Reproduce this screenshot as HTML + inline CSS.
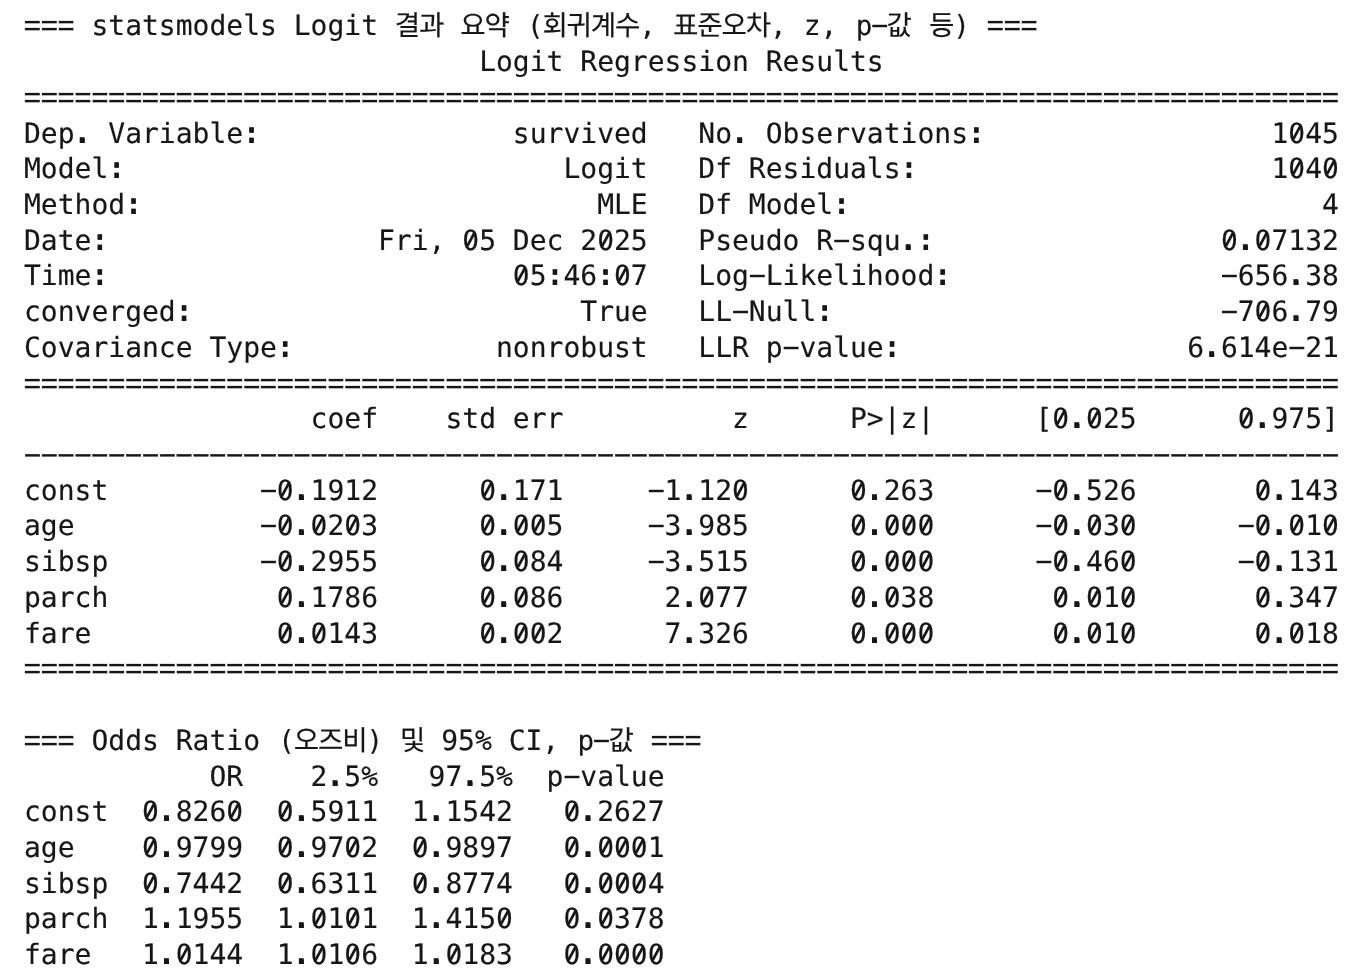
<!DOCTYPE html>
<html lang="ko">
<head>
<meta charset="utf-8">
<title>statsmodels Logit 결과 요약</title>
<style>
html,body{margin:0;padding:0;background:#fefefe;}
body{width:1352px;height:978px;overflow:hidden;position:relative;}
#out{position:absolute;left:24px;top:0;width:1328px;height:978px;
  font-family:"DejaVu Sans Mono","Liberation Mono","Noto Sans CJK KR",monospace;
  font-size:28px;line-height:36px;color:#161616;
  font-variant-ligatures:none;font-kerning:none;-webkit-text-stroke:0.15px #161616;
  text-rendering:geometricPrecision;}
.l{position:absolute;left:0;white-space:pre;height:36px;}
/* Korean tokens: fallback glyphs sized and spaced like the reference */
.k{font-family:"DejaVu Sans Mono","Noto Sans CJK KR","NanumGothic",monospace;font-size:27.6px;font-weight:400;letter-spacing:-1.15px;line-height:0;}
.kl{margin-left:1.39px;}
.kr{margin-right:1.39px;}
/* rule lines: reshape "=" and "-" glyph runs to the reference proportions */
.e{display:inline-block;-webkit-text-stroke:0.4px #fefefe;letter-spacing:-0.8788px;transform:translateX(-0.464px) scale(1.055,1.275);transform-origin:0 19.7px;}
.e3{margin-right:2.636px;}
.hr{display:inline-block;-webkit-text-stroke:0.25px #161616;letter-spacing:-8.5122px;transform:translate(-8.597px,-1px) scale(2.02,1.0);transform-origin:0 27px;}
/* decorations over the real text: slashed zero, heavier dots, longer hyphen */
#deco{position:absolute;left:0;top:0;}
</style>
</head>
<body>
<div id="out">
<div class="l" style="top:8px"><span class="e e3">===</span> statsmodels Logit <span class="k">결과</span> <span class="k">요약</span> <span class="k kl kr">(회귀계수,</span> <span class="k kr">표준오차,</span> z, <span class="k kl kr">p-값</span> <span class="k kr">등)</span> <span class="e e3">===</span></div>
<div class="l" style="top:44px">                           Logit Regression Results</div>
<div class="l" style="top:80px"><span class="e">==============================================================================</span></div>
<div class="l" style="top:116px">Dep. Variable:               survived   No. Observations:                 1045</div>
<div class="l" style="top:151px">Model:                          Logit   Df Residuals:                     1040</div>
<div class="l" style="top:187px">Method:                           MLE   Df Model:                            4</div>
<div class="l" style="top:223px">Date:                Fri, 05 Dec 2025   Pseudo R-squ.:                 0.07132</div>
<div class="l" style="top:258px">Time:                        05:46:07   Log-Likelihood:                -656.38</div>
<div class="l" style="top:294px">converged:                       True   LL-Null:                       -706.79</div>
<div class="l" style="top:330px">Covariance Type:            nonrobust   LLR p-value:                 6.614e-21</div>
<div class="l" style="top:366px"><span class="e">==============================================================================</span></div>
<div class="l" style="top:401px">                 coef    std err          z      P&gt;|z|      [0.025      0.975]</div>
<div class="l" style="top:437px"><span class="hr">------------------------------------------------------------------------------</span></div>
<div class="l" style="top:473px">const         -0.1912      0.171     -1.120      0.263      -0.526       0.143</div>
<div class="l" style="top:508px">age           -0.0203      0.005     -3.985      0.000      -0.030      -0.010</div>
<div class="l" style="top:544px">sibsp         -0.2955      0.084     -3.515      0.000      -0.460      -0.131</div>
<div class="l" style="top:580px">parch          0.1786      0.086      2.077      0.038       0.010       0.347</div>
<div class="l" style="top:616px">fare           0.0143      0.002      7.326      0.000       0.010       0.018</div>
<div class="l" style="top:651px"><span class="e">==============================================================================</span></div>
<div class="l" style="top:723px"><span class="e e3">===</span> Odds Ratio <span class="k kl kr">(오즈비)</span> <span class="k">및</span> 95% CI, <span class="k kl kr">p-값</span> <span class="e e3">===</span></div>
<div class="l" style="top:759px">           OR    2.5%   97.5%  p-value</div>
<div class="l" style="top:794px">const  0.8260  0.5911  1.1542   0.2627</div>
<div class="l" style="top:830px">age    0.9799  0.9702  0.9897   0.0001</div>
<div class="l" style="top:866px">sibsp  0.7442  0.6311  0.8774   0.0004</div>
<div class="l" style="top:901px">parch  1.1955  1.0101  1.4150   0.0378</div>
<div class="l" style="top:937px">fare   1.0144  1.0106  1.0183   0.0000</div>
<svg id="deco" width="1328" height="978" viewBox="0 0 1328 978" aria-hidden="true">
<g fill="#fefefe">
<rect x="851.13" y="26.92" width="9" height="2.48"/>
<circle cx="1272.74" cy="132.74" r="2.4"/>
<circle cx="1272.74" cy="167.74" r="2.4"/>
<circle cx="1306.45" cy="167.74" r="2.4"/>
<circle cx="446.72" cy="239.74" r="2.4"/>
<circle cx="581.58" cy="239.74" r="2.4"/>
<rect x="813.08" y="241.92" width="9" height="2.48"/>
<circle cx="1205.31" cy="239.74" r="2.4"/>
<circle cx="1239.02" cy="239.74" r="2.4"/>
<circle cx="497.29" cy="274.74" r="2.4"/>
<circle cx="598.44" cy="274.74" r="2.4"/>
<rect x="728.8" y="276.92" width="9" height="2.48"/>
<rect x="1200.8" y="276.92" width="9" height="2.48"/>
<rect x="711.94" y="312.92" width="9" height="2.48"/>
<rect x="1200.8" y="312.92" width="9" height="2.48"/>
<circle cx="1239.02" cy="310.74" r="2.4"/>
<rect x="762.51" y="348.92" width="9" height="2.48"/>
<rect x="1268.23" y="348.92" width="9" height="2.48"/>
<circle cx="1036.73" cy="417.74" r="2.4"/>
<circle cx="1070.45" cy="417.74" r="2.4"/>
<circle cx="1222.16" cy="417.74" r="2.4"/>
<rect x="239.93" y="491.92" width="9" height="2.48"/>
<circle cx="261.29" cy="489.74" r="2.4"/>
<circle cx="463.58" cy="489.74" r="2.4"/>
<rect x="627.65" y="491.92" width="9" height="2.48"/>
<circle cx="716.44" cy="489.74" r="2.4"/>
<circle cx="834.44" cy="489.74" r="2.4"/>
<rect x="1015.37" y="491.92" width="9" height="2.48"/>
<circle cx="1036.73" cy="489.74" r="2.4"/>
<circle cx="1239.02" cy="489.74" r="2.4"/>
<rect x="239.93" y="526.92" width="9" height="2.48"/>
<circle cx="261.29" cy="524.74" r="2.4"/>
<circle cx="295.01" cy="524.74" r="2.4"/>
<circle cx="328.72" cy="524.74" r="2.4"/>
<circle cx="463.58" cy="524.74" r="2.4"/>
<circle cx="497.29" cy="524.74" r="2.4"/>
<circle cx="514.15" cy="524.74" r="2.4"/>
<rect x="627.65" y="526.92" width="9" height="2.48"/>
<circle cx="834.44" cy="524.74" r="2.4"/>
<circle cx="868.16" cy="524.74" r="2.4"/>
<circle cx="885.01" cy="524.74" r="2.4"/>
<circle cx="901.87" cy="524.74" r="2.4"/>
<rect x="1015.37" y="526.92" width="9" height="2.48"/>
<circle cx="1036.73" cy="524.74" r="2.4"/>
<circle cx="1070.45" cy="524.74" r="2.4"/>
<circle cx="1104.16" cy="524.74" r="2.4"/>
<rect x="1217.66" y="526.92" width="9" height="2.48"/>
<circle cx="1239.02" cy="524.74" r="2.4"/>
<circle cx="1272.74" cy="524.74" r="2.4"/>
<circle cx="1306.45" cy="524.74" r="2.4"/>
<rect x="239.93" y="562.92" width="9" height="2.48"/>
<circle cx="261.29" cy="560.74" r="2.4"/>
<circle cx="463.58" cy="560.74" r="2.4"/>
<circle cx="497.29" cy="560.74" r="2.4"/>
<rect x="627.65" y="562.92" width="9" height="2.48"/>
<circle cx="834.44" cy="560.74" r="2.4"/>
<circle cx="868.16" cy="560.74" r="2.4"/>
<circle cx="885.01" cy="560.74" r="2.4"/>
<circle cx="901.87" cy="560.74" r="2.4"/>
<rect x="1015.37" y="562.92" width="9" height="2.48"/>
<circle cx="1036.73" cy="560.74" r="2.4"/>
<circle cx="1104.16" cy="560.74" r="2.4"/>
<rect x="1217.66" y="562.92" width="9" height="2.48"/>
<circle cx="1239.02" cy="560.74" r="2.4"/>
<circle cx="261.29" cy="596.74" r="2.4"/>
<circle cx="463.58" cy="596.74" r="2.4"/>
<circle cx="497.29" cy="596.74" r="2.4"/>
<circle cx="682.73" cy="596.74" r="2.4"/>
<circle cx="834.44" cy="596.74" r="2.4"/>
<circle cx="868.16" cy="596.74" r="2.4"/>
<circle cx="1036.73" cy="596.74" r="2.4"/>
<circle cx="1070.45" cy="596.74" r="2.4"/>
<circle cx="1104.16" cy="596.74" r="2.4"/>
<circle cx="1239.02" cy="596.74" r="2.4"/>
<circle cx="261.29" cy="632.74" r="2.4"/>
<circle cx="295.01" cy="632.74" r="2.4"/>
<circle cx="463.58" cy="632.74" r="2.4"/>
<circle cx="497.29" cy="632.74" r="2.4"/>
<circle cx="514.15" cy="632.74" r="2.4"/>
<circle cx="834.44" cy="632.74" r="2.4"/>
<circle cx="868.16" cy="632.74" r="2.4"/>
<circle cx="885.01" cy="632.74" r="2.4"/>
<circle cx="901.87" cy="632.74" r="2.4"/>
<circle cx="1036.73" cy="632.74" r="2.4"/>
<circle cx="1070.45" cy="632.74" r="2.4"/>
<circle cx="1104.16" cy="632.74" r="2.4"/>
<circle cx="1239.02" cy="632.74" r="2.4"/>
<circle cx="1272.74" cy="632.74" r="2.4"/>
<rect x="572.9" y="741.92" width="9" height="2.48"/>
<rect x="543.37" y="777.92" width="9" height="2.48"/>
<circle cx="126.43" cy="810.74" r="2.4"/>
<circle cx="210.72" cy="810.74" r="2.4"/>
<circle cx="261.29" cy="810.74" r="2.4"/>
<circle cx="547.87" cy="810.74" r="2.4"/>
<circle cx="126.43" cy="846.74" r="2.4"/>
<circle cx="261.29" cy="846.74" r="2.4"/>
<circle cx="328.72" cy="846.74" r="2.4"/>
<circle cx="396.15" cy="846.74" r="2.4"/>
<circle cx="547.87" cy="846.74" r="2.4"/>
<circle cx="581.58" cy="846.74" r="2.4"/>
<circle cx="598.44" cy="846.74" r="2.4"/>
<circle cx="615.3" cy="846.74" r="2.4"/>
<circle cx="126.43" cy="882.74" r="2.4"/>
<circle cx="261.29" cy="882.74" r="2.4"/>
<circle cx="396.15" cy="882.74" r="2.4"/>
<circle cx="547.87" cy="882.74" r="2.4"/>
<circle cx="581.58" cy="882.74" r="2.4"/>
<circle cx="598.44" cy="882.74" r="2.4"/>
<circle cx="615.3" cy="882.74" r="2.4"/>
<circle cx="295.01" cy="917.74" r="2.4"/>
<circle cx="328.72" cy="917.74" r="2.4"/>
<circle cx="480.44" cy="917.74" r="2.4"/>
<circle cx="547.87" cy="917.74" r="2.4"/>
<circle cx="581.58" cy="917.74" r="2.4"/>
<circle cx="160.15" cy="953.74" r="2.4"/>
<circle cx="295.01" cy="953.74" r="2.4"/>
<circle cx="328.72" cy="953.74" r="2.4"/>
<circle cx="429.86" cy="953.74" r="2.4"/>
<circle cx="547.87" cy="953.74" r="2.4"/>
<circle cx="581.58" cy="953.74" r="2.4"/>
<circle cx="598.44" cy="953.74" r="2.4"/>
<circle cx="615.3" cy="953.74" r="2.4"/>
<circle cx="632.15" cy="953.74" r="2.4"/>
</g>
<g fill="#161616">
<rect x="848.3" y="24.78" width="14.85" height="2.44"/>
<rect x="55.72" y="137.2" width="4.85" height="5.8"/>
<rect x="225.2" y="127.2" width="4.6" height="5.5"/>
<rect x="225.2" y="137.6" width="4.6" height="5.4"/>
<rect x="713.16" y="137.2" width="4.85" height="5.8"/>
<rect x="950.06" y="127.2" width="4.6" height="5.5"/>
<rect x="950.06" y="137.6" width="4.6" height="5.4"/>
<rect x="90.34" y="162.2" width="4.6" height="5.5"/>
<rect x="90.34" y="172.6" width="4.6" height="5.4"/>
<rect x="882.63" y="162.2" width="4.6" height="5.5"/>
<rect x="882.63" y="172.6" width="4.6" height="5.4"/>
<rect x="107.19" y="198.2" width="4.6" height="5.5"/>
<rect x="107.19" y="208.6" width="4.6" height="5.4"/>
<rect x="815.21" y="198.2" width="4.6" height="5.5"/>
<rect x="815.21" y="208.6" width="4.6" height="5.4"/>
<rect x="73.48" y="234.2" width="4.6" height="5.5"/>
<rect x="73.48" y="244.6" width="4.6" height="5.4"/>
<rect x="810.26" y="239.78" width="14.85" height="2.44"/>
<rect x="881.73" y="244.2" width="4.85" height="5.8"/>
<rect x="899.49" y="234.2" width="4.6" height="5.5"/>
<rect x="899.49" y="244.6" width="4.6" height="5.4"/>
<rect x="1218.88" y="244.2" width="4.85" height="5.8"/>
<rect x="73.48" y="269.2" width="4.6" height="5.5"/>
<rect x="73.48" y="279.6" width="4.6" height="5.4"/>
<rect x="528.63" y="269.2" width="4.6" height="5.5"/>
<rect x="528.63" y="279.6" width="4.6" height="5.4"/>
<rect x="579.2" y="269.2" width="4.6" height="5.5"/>
<rect x="579.2" y="279.6" width="4.6" height="5.4"/>
<rect x="725.97" y="274.78" width="14.85" height="2.44"/>
<rect x="916.35" y="269.2" width="4.6" height="5.5"/>
<rect x="916.35" y="279.6" width="4.6" height="5.4"/>
<rect x="1197.98" y="274.78" width="14.85" height="2.44"/>
<rect x="1269.46" y="279.2" width="4.85" height="5.8"/>
<rect x="157.77" y="305.2" width="4.6" height="5.5"/>
<rect x="157.77" y="315.6" width="4.6" height="5.4"/>
<rect x="709.11" y="310.78" width="14.85" height="2.44"/>
<rect x="798.35" y="305.2" width="4.6" height="5.5"/>
<rect x="798.35" y="315.6" width="4.6" height="5.4"/>
<rect x="1197.98" y="310.78" width="14.85" height="2.44"/>
<rect x="1269.46" y="315.2" width="4.85" height="5.8"/>
<rect x="258.91" y="341.2" width="4.6" height="5.5"/>
<rect x="258.91" y="351.6" width="4.6" height="5.4"/>
<rect x="759.68" y="346.78" width="14.85" height="2.44"/>
<rect x="865.78" y="341.2" width="4.6" height="5.5"/>
<rect x="865.78" y="351.6" width="4.6" height="5.4"/>
<rect x="1185.17" y="351.2" width="4.85" height="5.8"/>
<rect x="1265.41" y="346.78" width="14.85" height="2.44"/>
<rect x="1050.31" y="422.2" width="4.85" height="5.8"/>
<rect x="1235.74" y="422.2" width="4.85" height="5.8"/>
<rect x="237.1" y="489.78" width="14.85" height="2.44"/>
<rect x="274.87" y="494.2" width="4.85" height="5.8"/>
<rect x="477.16" y="494.2" width="4.85" height="5.8"/>
<rect x="624.82" y="489.78" width="14.85" height="2.44"/>
<rect x="662.59" y="494.2" width="4.85" height="5.8"/>
<rect x="848.02" y="494.2" width="4.85" height="5.8"/>
<rect x="1012.54" y="489.78" width="14.85" height="2.44"/>
<rect x="1050.31" y="494.2" width="4.85" height="5.8"/>
<rect x="1252.6" y="494.2" width="4.85" height="5.8"/>
<rect x="237.1" y="524.78" width="14.85" height="2.44"/>
<rect x="274.87" y="529.2" width="4.85" height="5.8"/>
<rect x="477.16" y="529.2" width="4.85" height="5.8"/>
<rect x="624.82" y="524.78" width="14.85" height="2.44"/>
<rect x="662.59" y="529.2" width="4.85" height="5.8"/>
<rect x="848.02" y="529.2" width="4.85" height="5.8"/>
<rect x="1012.54" y="524.78" width="14.85" height="2.44"/>
<rect x="1050.31" y="529.2" width="4.85" height="5.8"/>
<rect x="1214.83" y="524.78" width="14.85" height="2.44"/>
<rect x="1252.6" y="529.2" width="4.85" height="5.8"/>
<rect x="237.1" y="560.78" width="14.85" height="2.44"/>
<rect x="274.87" y="565.2" width="4.85" height="5.8"/>
<rect x="477.16" y="565.2" width="4.85" height="5.8"/>
<rect x="624.82" y="560.78" width="14.85" height="2.44"/>
<rect x="662.59" y="565.2" width="4.85" height="5.8"/>
<rect x="848.02" y="565.2" width="4.85" height="5.8"/>
<rect x="1012.54" y="560.78" width="14.85" height="2.44"/>
<rect x="1050.31" y="565.2" width="4.85" height="5.8"/>
<rect x="1214.83" y="560.78" width="14.85" height="2.44"/>
<rect x="1252.6" y="565.2" width="4.85" height="5.8"/>
<rect x="274.87" y="601.2" width="4.85" height="5.8"/>
<rect x="477.16" y="601.2" width="4.85" height="5.8"/>
<rect x="662.59" y="601.2" width="4.85" height="5.8"/>
<rect x="848.02" y="601.2" width="4.85" height="5.8"/>
<rect x="1050.31" y="601.2" width="4.85" height="5.8"/>
<rect x="1252.6" y="601.2" width="4.85" height="5.8"/>
<rect x="274.87" y="637.2" width="4.85" height="5.8"/>
<rect x="477.16" y="637.2" width="4.85" height="5.8"/>
<rect x="662.59" y="637.2" width="4.85" height="5.8"/>
<rect x="848.02" y="637.2" width="4.85" height="5.8"/>
<rect x="1050.31" y="637.2" width="4.85" height="5.8"/>
<rect x="1252.6" y="637.2" width="4.85" height="5.8"/>
<rect x="570.08" y="739.78" width="14.85" height="2.44"/>
<rect x="308.58" y="780.2" width="4.85" height="5.8"/>
<rect x="443.44" y="780.2" width="4.85" height="5.8"/>
<rect x="540.54" y="775.78" width="14.85" height="2.44"/>
<rect x="140.01" y="815.2" width="4.85" height="5.8"/>
<rect x="274.87" y="815.2" width="4.85" height="5.8"/>
<rect x="409.73" y="815.2" width="4.85" height="5.8"/>
<rect x="561.44" y="815.2" width="4.85" height="5.8"/>
<rect x="140.01" y="851.2" width="4.85" height="5.8"/>
<rect x="274.87" y="851.2" width="4.85" height="5.8"/>
<rect x="409.73" y="851.2" width="4.85" height="5.8"/>
<rect x="561.44" y="851.2" width="4.85" height="5.8"/>
<rect x="140.01" y="887.2" width="4.85" height="5.8"/>
<rect x="274.87" y="887.2" width="4.85" height="5.8"/>
<rect x="409.73" y="887.2" width="4.85" height="5.8"/>
<rect x="561.44" y="887.2" width="4.85" height="5.8"/>
<rect x="140.01" y="922.2" width="4.85" height="5.8"/>
<rect x="274.87" y="922.2" width="4.85" height="5.8"/>
<rect x="409.73" y="922.2" width="4.85" height="5.8"/>
<rect x="561.44" y="922.2" width="4.85" height="5.8"/>
<rect x="140.01" y="958.2" width="4.85" height="5.8"/>
<rect x="274.87" y="958.2" width="4.85" height="5.8"/>
<rect x="409.73" y="958.2" width="4.85" height="5.8"/>
<rect x="561.44" y="958.2" width="4.85" height="5.8"/>
</g>
<g stroke="#161616" stroke-width="2.7">
<line x1="1269.31" y1="139.14" x2="1276.16" y2="126.48"/>
<line x1="1269.31" y1="174.14" x2="1276.16" y2="161.48"/>
<line x1="1303.03" y1="174.14" x2="1309.87" y2="161.48"/>
<line x1="443.3" y1="246.14" x2="450.15" y2="233.48"/>
<line x1="578.16" y1="246.14" x2="585.01" y2="233.48"/>
<line x1="1201.88" y1="246.14" x2="1208.73" y2="233.48"/>
<line x1="1235.6" y1="246.14" x2="1242.44" y2="233.48"/>
<line x1="493.87" y1="281.14" x2="500.72" y2="268.48"/>
<line x1="595.01" y1="281.14" x2="601.86" y2="268.48"/>
<line x1="1235.6" y1="317.14" x2="1242.44" y2="304.48"/>
<line x1="1033.31" y1="424.14" x2="1040.16" y2="411.48"/>
<line x1="1067.02" y1="424.14" x2="1073.87" y2="411.48"/>
<line x1="1218.74" y1="424.14" x2="1225.59" y2="411.48"/>
<line x1="257.87" y1="496.14" x2="264.72" y2="483.48"/>
<line x1="460.16" y1="496.14" x2="467" y2="483.48"/>
<line x1="713.02" y1="496.14" x2="719.87" y2="483.48"/>
<line x1="831.02" y1="496.14" x2="837.87" y2="483.48"/>
<line x1="1033.31" y1="496.14" x2="1040.16" y2="483.48"/>
<line x1="1235.6" y1="496.14" x2="1242.44" y2="483.48"/>
<line x1="257.87" y1="531.14" x2="264.72" y2="518.48"/>
<line x1="291.58" y1="531.14" x2="298.43" y2="518.48"/>
<line x1="325.3" y1="531.14" x2="332.15" y2="518.48"/>
<line x1="460.16" y1="531.14" x2="467" y2="518.48"/>
<line x1="493.87" y1="531.14" x2="500.72" y2="518.48"/>
<line x1="510.73" y1="531.14" x2="517.58" y2="518.48"/>
<line x1="831.02" y1="531.14" x2="837.87" y2="518.48"/>
<line x1="864.73" y1="531.14" x2="871.58" y2="518.48"/>
<line x1="881.59" y1="531.14" x2="888.44" y2="518.48"/>
<line x1="898.45" y1="531.14" x2="905.3" y2="518.48"/>
<line x1="1033.31" y1="531.14" x2="1040.16" y2="518.48"/>
<line x1="1067.02" y1="531.14" x2="1073.87" y2="518.48"/>
<line x1="1100.74" y1="531.14" x2="1107.59" y2="518.48"/>
<line x1="1235.6" y1="531.14" x2="1242.44" y2="518.48"/>
<line x1="1269.31" y1="531.14" x2="1276.16" y2="518.48"/>
<line x1="1303.03" y1="531.14" x2="1309.87" y2="518.48"/>
<line x1="257.87" y1="567.14" x2="264.72" y2="554.48"/>
<line x1="460.16" y1="567.14" x2="467" y2="554.48"/>
<line x1="493.87" y1="567.14" x2="500.72" y2="554.48"/>
<line x1="831.02" y1="567.14" x2="837.87" y2="554.48"/>
<line x1="864.73" y1="567.14" x2="871.58" y2="554.48"/>
<line x1="881.59" y1="567.14" x2="888.44" y2="554.48"/>
<line x1="898.45" y1="567.14" x2="905.3" y2="554.48"/>
<line x1="1033.31" y1="567.14" x2="1040.16" y2="554.48"/>
<line x1="1100.74" y1="567.14" x2="1107.59" y2="554.48"/>
<line x1="1235.6" y1="567.14" x2="1242.44" y2="554.48"/>
<line x1="257.87" y1="603.14" x2="264.72" y2="590.48"/>
<line x1="460.16" y1="603.14" x2="467" y2="590.48"/>
<line x1="493.87" y1="603.14" x2="500.72" y2="590.48"/>
<line x1="679.3" y1="603.14" x2="686.15" y2="590.48"/>
<line x1="831.02" y1="603.14" x2="837.87" y2="590.48"/>
<line x1="864.73" y1="603.14" x2="871.58" y2="590.48"/>
<line x1="1033.31" y1="603.14" x2="1040.16" y2="590.48"/>
<line x1="1067.02" y1="603.14" x2="1073.87" y2="590.48"/>
<line x1="1100.74" y1="603.14" x2="1107.59" y2="590.48"/>
<line x1="1235.6" y1="603.14" x2="1242.44" y2="590.48"/>
<line x1="257.87" y1="639.14" x2="264.72" y2="626.48"/>
<line x1="291.58" y1="639.14" x2="298.43" y2="626.48"/>
<line x1="460.16" y1="639.14" x2="467" y2="626.48"/>
<line x1="493.87" y1="639.14" x2="500.72" y2="626.48"/>
<line x1="510.73" y1="639.14" x2="517.58" y2="626.48"/>
<line x1="831.02" y1="639.14" x2="837.87" y2="626.48"/>
<line x1="864.73" y1="639.14" x2="871.58" y2="626.48"/>
<line x1="881.59" y1="639.14" x2="888.44" y2="626.48"/>
<line x1="898.45" y1="639.14" x2="905.3" y2="626.48"/>
<line x1="1033.31" y1="639.14" x2="1040.16" y2="626.48"/>
<line x1="1067.02" y1="639.14" x2="1073.87" y2="626.48"/>
<line x1="1100.74" y1="639.14" x2="1107.59" y2="626.48"/>
<line x1="1235.6" y1="639.14" x2="1242.44" y2="626.48"/>
<line x1="1269.31" y1="639.14" x2="1276.16" y2="626.48"/>
<line x1="123.01" y1="817.14" x2="129.86" y2="804.48"/>
<line x1="207.29" y1="817.14" x2="214.14" y2="804.48"/>
<line x1="257.87" y1="817.14" x2="264.72" y2="804.48"/>
<line x1="544.44" y1="817.14" x2="551.29" y2="804.48"/>
<line x1="123.01" y1="853.14" x2="129.86" y2="840.48"/>
<line x1="257.87" y1="853.14" x2="264.72" y2="840.48"/>
<line x1="325.3" y1="853.14" x2="332.15" y2="840.48"/>
<line x1="392.73" y1="853.14" x2="399.57" y2="840.48"/>
<line x1="544.44" y1="853.14" x2="551.29" y2="840.48"/>
<line x1="578.16" y1="853.14" x2="585.01" y2="840.48"/>
<line x1="595.01" y1="853.14" x2="601.86" y2="840.48"/>
<line x1="611.87" y1="853.14" x2="618.72" y2="840.48"/>
<line x1="123.01" y1="889.14" x2="129.86" y2="876.48"/>
<line x1="257.87" y1="889.14" x2="264.72" y2="876.48"/>
<line x1="392.73" y1="889.14" x2="399.57" y2="876.48"/>
<line x1="544.44" y1="889.14" x2="551.29" y2="876.48"/>
<line x1="578.16" y1="889.14" x2="585.01" y2="876.48"/>
<line x1="595.01" y1="889.14" x2="601.86" y2="876.48"/>
<line x1="611.87" y1="889.14" x2="618.72" y2="876.48"/>
<line x1="291.58" y1="924.14" x2="298.43" y2="911.48"/>
<line x1="325.3" y1="924.14" x2="332.15" y2="911.48"/>
<line x1="477.01" y1="924.14" x2="483.86" y2="911.48"/>
<line x1="544.44" y1="924.14" x2="551.29" y2="911.48"/>
<line x1="578.16" y1="924.14" x2="585.01" y2="911.48"/>
<line x1="156.72" y1="960.14" x2="163.57" y2="947.48"/>
<line x1="291.58" y1="960.14" x2="298.43" y2="947.48"/>
<line x1="325.3" y1="960.14" x2="332.15" y2="947.48"/>
<line x1="426.44" y1="960.14" x2="433.29" y2="947.48"/>
<line x1="544.44" y1="960.14" x2="551.29" y2="947.48"/>
<line x1="578.16" y1="960.14" x2="585.01" y2="947.48"/>
<line x1="595.01" y1="960.14" x2="601.86" y2="947.48"/>
<line x1="611.87" y1="960.14" x2="618.72" y2="947.48"/>
<line x1="628.73" y1="960.14" x2="635.58" y2="947.48"/>
</g>
</svg>
</div>
</body>
</html>
